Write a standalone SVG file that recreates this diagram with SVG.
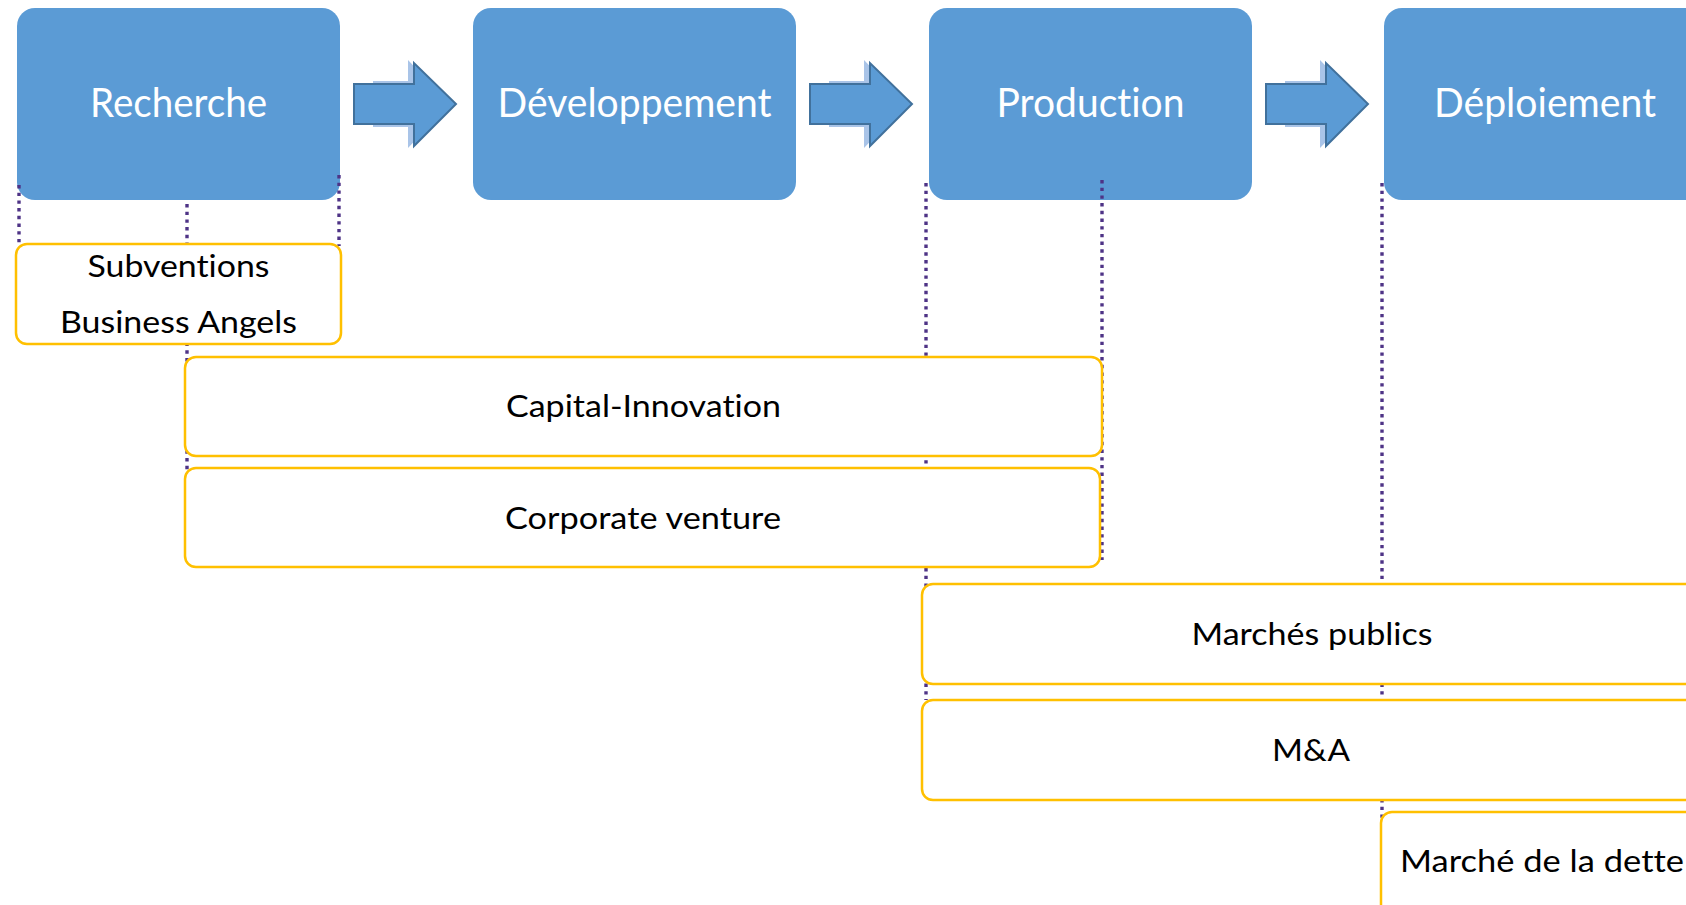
<svg xmlns="http://www.w3.org/2000/svg" width="1686" height="905" viewBox="0 0 1686 905">
<style>
text{font-variant-ligatures:none;font-feature-settings:"liga" 0,"clig" 0;}
.stage{fill:#5B9BD5;}
.stxt{font-family:Lato,"Open Sans",sans-serif;font-size:40px;fill:#FFFFFF;text-anchor:middle;}
.fund{fill:#FFFFFF;stroke:#FFC000;stroke-width:2.5;}
.ftxt{font-family:Lato,"Open Sans",sans-serif;font-size:31px;fill:#000000;text-anchor:middle;}
.dot{stroke:#4E3386;stroke-width:3.4;stroke-dasharray:3.4 4.3;fill:none;}
.arr{fill:#5B9BD5;stroke:#41719C;stroke-width:2;stroke-linejoin:miter;}
.ash{fill:#A9C4E8;}
</style>
<rect width="1686" height="905" fill="#FFFFFF"/>
<g id="stages">
<g id="recherche"><rect class="stage" x="17" y="8" width="323" height="192" rx="18"/><text class="stxt" x="178.5" y="117" textLength="177" lengthAdjust="spacingAndGlyphs">Recherche</text></g>
<g id="developpement"><rect class="stage" x="473" y="8" width="323" height="192" rx="18"/><text class="stxt" x="634.5" y="117" textLength="274" lengthAdjust="spacingAndGlyphs">Développement</text></g>
<g id="production"><rect class="stage" x="929" y="8" width="323" height="192" rx="18"/><text class="stxt" x="1090.5" y="117" textLength="188" lengthAdjust="spacingAndGlyphs">Production</text></g>
<g id="deploiement"><rect class="stage" x="1384" y="8" width="323" height="192" rx="18"/><text class="stxt" x="1545" y="117" textLength="222" lengthAdjust="spacingAndGlyphs">Déploiement</text></g>
</g>
<g id="connectors">
<g id="arrow1"><polygon class="ash" points="373,81 408,81 408,60 450,104 408,148 408,127 373,127"/><polygon class="arr" points="354,84 414,84 414,63 456,104 414,146 414,124 354,124"/></g>
<g id="arrow2"><polygon class="ash" points="829,81 864,81 864,60 906,104 864,148 864,127 829,127"/><polygon class="arr" points="810,84 870,84 870,63 912,104 870,146 870,124 810,124"/></g>
<g id="arrow3"><polygon class="ash" points="1285,81 1320,81 1320,60 1362,104 1320,148 1320,127 1285,127"/><polygon class="arr" points="1266,84 1326,84 1326,63 1368,104 1326,146 1326,124 1266,124"/></g>
<line class="dot" x1="19" y1="185" x2="19" y2="243"/>
<line class="dot" x1="187" y1="204" x2="187" y2="543"/>
<line class="dot" x1="339" y1="175" x2="339" y2="246"/>
<line class="dot" x1="926" y1="183" x2="926" y2="700"/>
<line class="dot" x1="1102" y1="180" x2="1102" y2="560"/>
<line class="dot" x1="1382" y1="183" x2="1382" y2="905"/>
</g>
<g id="subventions"><rect class="fund" x="16" y="244" width="325" height="100" rx="11"/><text class="ftxt" x="178.5" y="277" textLength="182" lengthAdjust="spacingAndGlyphs">Subventions</text><text class="ftxt" x="178.5" y="333" textLength="237" lengthAdjust="spacingAndGlyphs">Business Angels</text></g>
<g id="capital-innovation"><rect class="fund" x="185" y="357" width="917" height="99" rx="11"/><text class="ftxt" x="643.5" y="417" textLength="275" lengthAdjust="spacingAndGlyphs">Capital-Innovation</text></g>
<g id="corporate-venture"><rect class="fund" x="185" y="468" width="915" height="99" rx="11"/><text class="ftxt" x="643" y="529" textLength="276" lengthAdjust="spacingAndGlyphs">Corporate venture</text></g>
<g id="marches-publics"><rect class="fund" x="922" y="584" width="780" height="100" rx="11"/><text class="ftxt" x="1312" y="645" textLength="241" lengthAdjust="spacingAndGlyphs">Marchés publics</text></g>
<g id="ma"><rect class="fund" x="922" y="700" width="780" height="100" rx="11"/><text class="ftxt" x="1311" y="761" textLength="78" lengthAdjust="spacingAndGlyphs">M&amp;A</text></g>
<g id="marche-dette"><rect class="fund" x="1381" y="812" width="324" height="110" rx="11"/><text class="ftxt" x="1542" y="872" textLength="284" lengthAdjust="spacingAndGlyphs">Marché de la dette</text></g>
</svg>
